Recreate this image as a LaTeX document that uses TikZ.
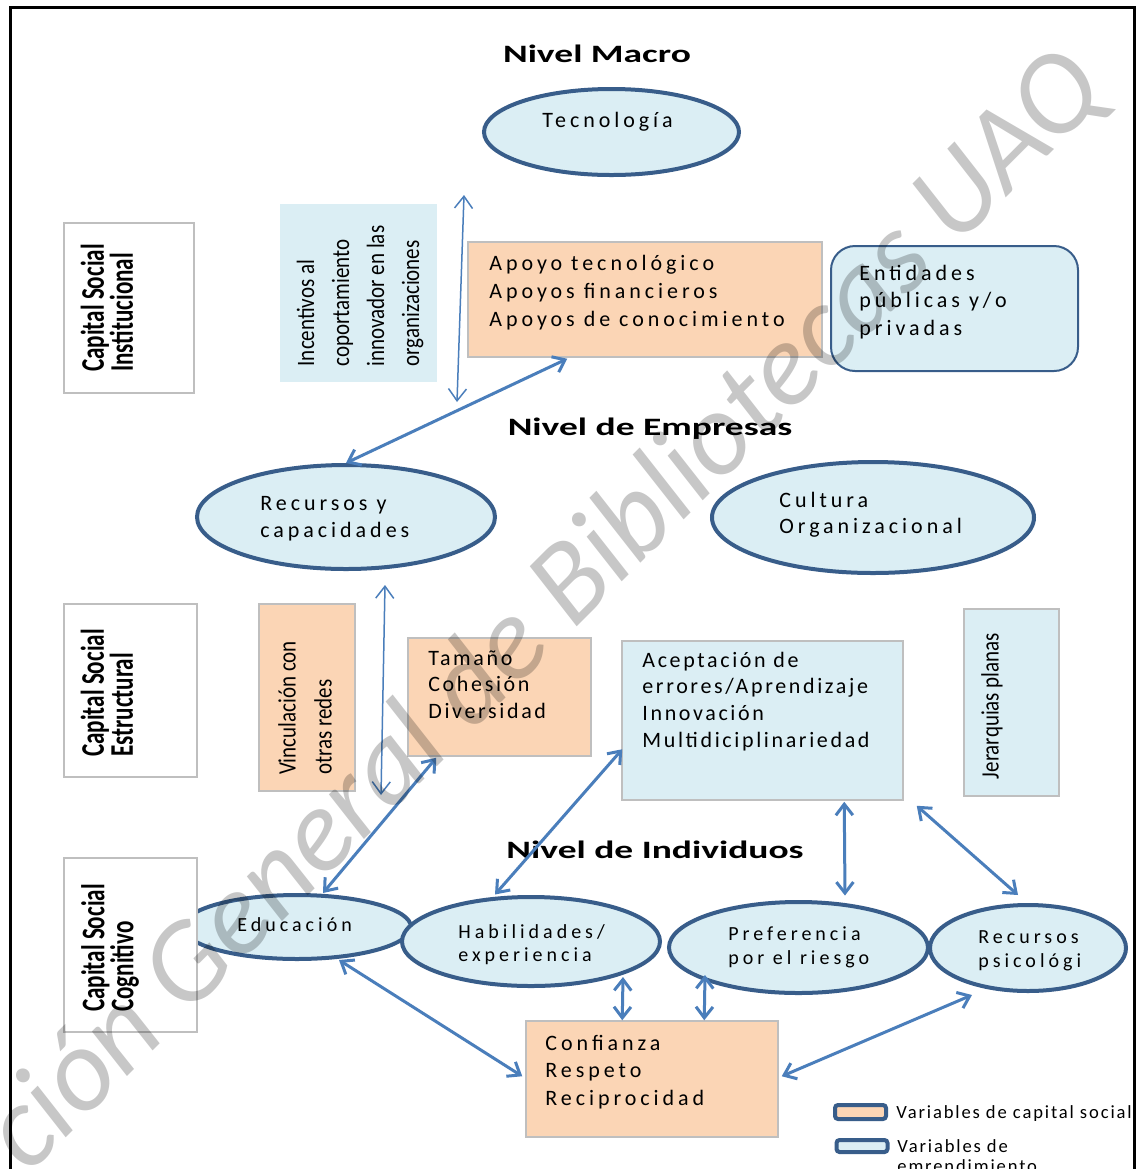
\documentclass[tikz,border=0pt]{standalone}
\usepackage{fontspec}
\setmainfont{Carlito}
\newfontfamily\bodyfont{Carlito}[LetterSpace=18]
\newfontfamily\midfont{Carlito}[LetterSpace=12]
\newfontfamily\smallfont{Carlito}[LetterSpace=20]
\newfontfamily\legfont{Carlito}[LetterSpace=10]
\newfontfamily\headfont{Carlito}[FakeStretch=1.5]
\newfontfamily\capfont{Carlito}[FakeStretch=0.7]
\newfontfamily\rotfont{Carlito}[FakeStretch=0.84]
\usetikzlibrary{shapes.geometric,arrows.meta,calc}
\definecolor{lblue}{HTML}{DBEEF4}
\definecolor{lorange}{HTML}{FBD5B5}
\definecolor{ellblue}{HTML}{385D8A}
\definecolor{arrblue}{HTML}{4A7EBB}
\definecolor{boxgrey}{HTML}{BFBFBF}
% fixed first-line height so that text nodes can be placed by their top edge
\newcommand\fl{\rule{0pt}{0.9em}}
\lineskiplimit=-10pt
\begin{document}
\begin{tikzpicture}[x=0.5pt,y=-0.5pt,
  ell/.style={ellipse, draw=ellblue, line width=2pt, fill=lblue, inner sep=0pt},
  gbox/.style={rectangle, draw=boxgrey, line width=0.75pt, inner sep=0pt},
  obox/.style={gbox, fill=lorange},
  bbox/.style={gbox, fill=lblue},
  wbox/.style={gbox, fill=white},
  body/.style={anchor=north west, inner sep=0pt, align=left,
    font=\bodyfont\fontsize{11pt}{#1}\selectfont},
  body/.default=13.5pt,
  mid/.style={anchor=north west, inner sep=0pt, align=left,
    font=\midfont\fontsize{11pt}{#1}\selectfont},
  small/.style={anchor=north west, inner sep=0pt, align=left,
    font=\smallfont\fontsize{10pt}{#1}\selectfont},
  small/.default=12pt,
  leg/.style={anchor=north west, inner sep=0pt, align=left,
    font=\legfont\fontsize{9.3pt}{10pt}\selectfont},
  head/.style={anchor=base, inner sep=0pt,
    font=\headfont\bfseries\fontsize{12.5pt}{15pt}\selectfont},
  captxt/.style={rotate=90, align=left, inner sep=0pt,
    font=\capfont\bfseries\fontsize{16.5pt}{14.5pt}\selectfont},
  rottxt/.style={rotate=90, align=left, inner sep=0pt,
    font=\rotfont\fontsize{12.5pt}{#1}\selectfont},
  rottxt/.default=17.5pt,
  thinarr/.style={draw=arrblue, line width=0.75pt,
    {Straight Barb[length=6pt,width=9pt]}-{Straight Barb[length=6pt,width=9pt]}},
  thickarr/.style={draw=arrblue, line width=1.5pt,
    {Straight Barb[length=5.5pt,width=8.5pt]}-{Straight Barb[length=5.5pt,width=8.5pt]}},
  swatch/.style={rectangle, rounded corners=1.5pt, draw=ellblue, line width=2pt,
    minimum width=25.5pt, minimum height=7pt, inner sep=0pt}
]
\useasboundingbox (0,0) rectangle (1139,1169);
\clip (0,0) rectangle (1139,1169);
\fill[white] (0,0) rectangle (1139,1169);

% outer frame (open at the bottom edge of the page)
\draw[line width=1.5pt] (10,1180) -- (10,7.5) -- (1134.5,7.5) -- (1134.5,1180);

% level headings
\node[head] (hmacro) at (597,62) {Nivel Macro};
\node[head] (hemp) at (650,435) {Nivel de Empresas};
\node[head] (hind) at (655,858) {Nivel de Individuos};

% ellipses
\node[ell, minimum width=127.5pt, minimum height=43pt] (tec) at (611.5,132) {};
\node[ell, minimum width=149pt, minimum height=52pt] (recap) at (346,517) {};
\node[ell, minimum width=161pt, minimum height=55.5pt] (cult) at (873,517.5) {};
\node[ell, minimum width=114pt, minimum height=32pt] (edu) at (297,927) {};
\node[ell, minimum width=129pt, minimum height=44.5pt] (hab) at (531,941.5) {};
\node[ell, minimum width=129.5pt, minimum height=45.5pt] (pref) at (798.5,947.5) {};
\node[ell, minimum width=98pt, minimum height=43pt] (rpsi) at (1028,948) {};

% boxes
\node[wbox, minimum width=65pt, minimum height=85pt] (csi) at (129,308) {};
\node[wbox, minimum width=66.5pt, minimum height=86.5pt] (cse) at (130.5,690.5) {};
\node[wbox, minimum width=66.5pt, minimum height=87pt] (csc) at (130.5,945) {};
\node[rectangle, fill=lblue, inner sep=0pt, minimum width=78.5pt, minimum height=89pt] (inc) at (358.5,293) {};
\node[obox, minimum width=177pt, minimum height=57.5pt] (apoyo) at (645,299.5) {};
\node[rectangle, rounded corners=12pt, draw=ellblue, line width=1pt, fill=lblue,
  inner sep=0pt, minimum width=123.5pt, minimum height=62.5pt] (ent) at (954.5,308.5) {};
\node[obox, minimum width=48pt, minimum height=93.5pt] (vinc) at (307,697.5) {};
\node[obox, minimum width=91.5pt, minimum height=59pt] (tam) at (499.5,697) {};
\node[bbox, minimum width=140.5pt, minimum height=79.5pt] (acep) at (762.5,720.5) {};
\node[bbox, minimum width=47.5pt, minimum height=93.5pt] (jer) at (1011.5,702.5) {};
\node[obox, minimum width=126pt, minimum height=58pt] (conf) at (652,1079) {};

% texts
\node[body] (tect) at (542,107) {\fl Tecnología};
\node[body=14pt] (apoyot) at (489,250) {\fl Apoyo tecnológico\\Apoyos financieros\\Apoyos de conocimiento};
\node[body=13.75pt] (entt) at (859,260) {\fl Entidades\\públicas y/o\\privadas};
\node[body=13.5pt] (recapt) at (260,490) {\fl Recursos y\\capacidades};
\node[body=13pt] (cultt) at (779,487) {\fl Cultura\\Organizacional};
\node[mid=13.25pt] (tamt) at (428,645) {\fl Tamaño\\Cohesión\\Diversidad};
\node[mid=13.33pt] (acept) at (642,647) {\fl Aceptación de\\errores/Aprendizaje\\Innovación\\Multidiciplinariedad};
\node[body=13.75pt] (conft) at (545,1030) {\fl Confianza\\Respeto\\Reciprocidad};
\node[small] (edut) at (237,913) {\fl Educación};
\node[small=11.5pt] (habt) at (458,920) {\fl Habilidades/\\experiencia};
\node[small] (preft) at (728,922) {\fl Preferencia\\por el riesgo};
\node[small] (rpsit) at (978,925) {\fl Recursos\\psicológi};

% rotated texts
\node[captxt] (csit) at (107,308) {Capital Social\\Institucional};
\node[captxt] (cset) at (107,693) {Capital Social\\Estructural};
\node[captxt] (csct) at (110,948) {Capital Social\\Cognitivo};
\node[rottxt] (inct) at (360,296) {Incentivos al\\coportamiento\\innovador en las\\organizaciones};
\node[rottxt=18pt] (vinct) at (305,708) {Vinculación con\\otras redes};
\node[rottxt] (jert) at (992,706) {Jerarquias planas};

% free ends of the two thin vertical connectors
\coordinate (m1) at (464,195);
\coordinate (m2) at (457,402);
\coordinate (m3) at (385,585);
\coordinate (m4) at (381,795);

% connectors
\draw[thinarr] (m1) -- (m2);
\draw[thinarr] (m3) -- (m4);
\draw[thickarr] ($(apoyo.south west)+(100,1)$) -- (recap.north);
\draw[thickarr] ($(tam.south west)+(29,1)$) -- ($(edu.center)+(26,-34)$);
\draw[thickarr] ($(acep.north west)+(1,109)$) -- ($(hab.center)+(-36,-47)$);
\draw[thickarr] ($(acep.south west)+(223,1)$) -- ($(pref.center)+(46.5,-52)$);
\draw[thickarr] ($(acep.south east)+(13,5)$) -- ($(rpsi.center)+(-10,-53)$);
\draw[thickarr] ($(hab.center)+(92,35.5)$) -- ($(conf.north west)+(97,0)$);
\draw[thickarr] ($(pref.center)+(-93.5,27.5)$) -- ($(conf.north west)+(179,0)$);
\draw[thickarr] ($(edu.center)+(42,33)$) -- ($(conf.north west)+(-3,56)$);
\draw[thickarr] ($(rpsi.center)+(-56,47)$) -- ($(conf.north east)+(3,56)$);

% legend
\node[swatch, fill=lorange] (leg1) at (860.5,1112) {};
\node[swatch, fill=lblue, minimum height=6pt] (leg2) at (862,1146) {};
\node[leg] (leg1t) at (896,1101) {\fl Variables de capital social};
\node[leg] (leg2t) at (897,1135) {\fl Variables de\\emrendimiento};

% library watermark across the sheet
\node[anchor=base west, rotate=45, inner sep=0pt, text=black, text opacity=0.22,
  font=\itshape\fontsize{59pt}{59pt}\selectfont] (wm) at (28,1176)
  {ción General de Bibliotecas UAQ};
\end{tikzpicture}
\end{document}
